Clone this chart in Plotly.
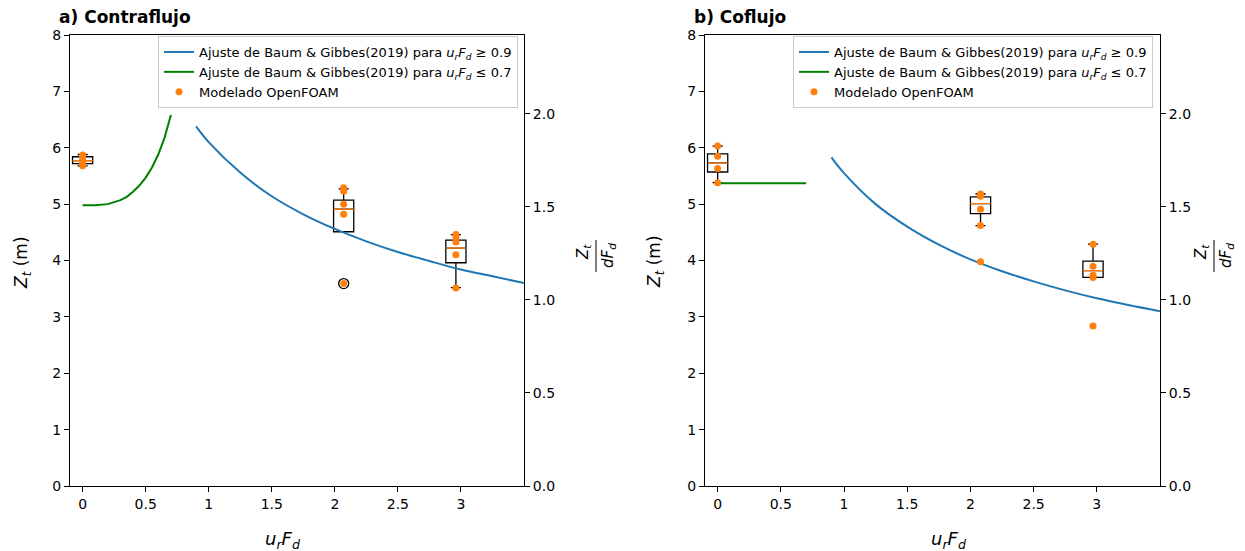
import plotly.graph_objects as go

W, H = 1245, 551

# ---------------- data ----------------
# Panel a) Contraflujo
a_blue_x = [0.9, 1.0, 1.25, 1.5, 1.75, 2.0, 2.25, 2.5, 2.75, 3.0, 3.25, 3.5]
a_blue_y = [6.38, 6.10, 5.56, 5.14, 4.82, 4.56, 4.34, 4.15, 3.99, 3.84, 3.72, 3.60]
a_green_x = [0.0, 0.1, 0.2, 0.3, 0.35, 0.4, 0.45, 0.5, 0.55, 0.6, 0.65, 0.7]
a_green_y = [4.98, 4.98, 5.00, 5.07, 5.13, 5.22, 5.33, 5.47, 5.65, 5.88, 6.18, 6.58]
a_box_pos = [0.0, 2.07, 2.96]
a_q1 = [5.72, 4.51, 3.96]
a_med = [5.77, 4.91, 4.22]
a_q3 = [5.84, 5.07, 4.36]
a_low = [5.68, 4.51, 3.52]
a_up = [5.88, 5.27, 4.46]
a_pts_x = [0.0, 0.0, 0.0, 0.0, 0.0, 2.07, 2.07, 2.07, 2.07, 2.07, 2.96, 2.96, 2.96, 2.96, 2.96]
a_pts_y = [5.68, 5.73, 5.78, 5.83, 5.87, 5.29, 5.23, 5.00, 4.82, 3.59, 4.46, 4.42, 4.33, 4.10, 3.51]
a_flier_x = [2.07]
a_flier_y = [3.59]

# Panel b) Coflujo
b_blue_x = [0.9, 1.0, 1.25, 1.5, 1.75, 2.0, 2.25, 2.5, 2.75, 3.0, 3.25, 3.5]
b_blue_y = [5.83, 5.55, 5.00, 4.60, 4.28, 4.02, 3.81, 3.63, 3.47, 3.33, 3.21, 3.10]
b_green_x = [0.0, 0.7]
b_green_y = [5.37, 5.37]
b_box_pos = [0.0, 2.08, 2.97]
b_q1 = [5.57, 4.83, 3.70]
b_med = [5.73, 5.01, 3.82]
b_q3 = [5.89, 5.13, 3.99]
b_low = [5.38, 4.62, 3.70]
b_up = [6.03, 5.18, 4.29]
b_pts_x = [0.0, 0.0, 0.0, 0.0, 2.08, 2.08, 2.08, 2.08, 2.08, 2.97, 2.97, 2.97, 2.97, 2.97]
b_pts_y = [6.03, 5.85, 5.63, 5.38, 5.18, 5.14, 4.91, 4.62, 3.98, 4.29, 3.90, 3.74, 3.70, 2.84]

box_width = 0.16
ratio_top = 8 / 3.3  # right axis (Z_t / dF_d) upper limit

x_ticks = [0, 0.5, 1, 1.5, 2, 2.5, 3]
y_ticks = [0, 1, 2, 3, 4, 5, 6, 7, 8]
r_ticks = [0.0, 0.5, 1.0, 1.5, 2.0]

BLUE = "#1f77b4"
GREEN = "#008000"
ORANGE = "#ff7f0e"
FONT = "DejaVu Sans"

lbl_hi = "Ajuste de Baum & Gibbes(2019) para <i>u<sub>r</sub>F<sub>d</sub></i> ≥ 0.9"
lbl_lo = "Ajuste de Baum & Gibbes(2019) para <i>u<sub>r</sub>F<sub>d</sub></i> ≤ 0.7"
lbl_pts = "Modelado OpenFOAM"

fig = go.Figure()


def add_panel(xa, ya, ra, leg, blue_x, blue_y, green_x, green_y, pos, q1, med, q3, low, up,
              px, py, flx=None, fly=None):
    fig.add_trace(go.Scatter(x=blue_x, y=blue_y, mode="lines", line=dict(color=BLUE, width=2, shape="spline"),
                             name=lbl_hi, xaxis=xa, yaxis=ya, legend=leg))
    fig.add_trace(go.Scatter(x=green_x, y=green_y, mode="lines", line=dict(color=GREEN, width=2),
                             name=lbl_lo, xaxis=xa, yaxis=ya, legend=leg))
    fig.add_trace(go.Box(x=pos, q1=q1, median=med, q3=q3, lowerfence=low, upperfence=up,
                         width=box_width, whiskerwidth=0.5, boxpoints=False,
                         fillcolor="rgba(0,0,0,0)", line=dict(color="black", width=1.3),
                         showlegend=False, xaxis=xa, yaxis=ya, hoverinfo="skip"))
    # orange median lines
    for p, m in zip(pos, med):
        fig.add_trace(go.Scatter(x=[p - box_width / 2, p + box_width / 2], y=[m, m], mode="lines",
                                 line=dict(color=ORANGE, width=1.3), showlegend=False,
                                 xaxis=xa, yaxis=ya, hoverinfo="skip"))
    if flx is not None:
        fig.add_trace(go.Scatter(x=flx, y=fly, mode="markers",
                                 marker=dict(symbol="circle-open", size=10, color="black",
                                             line=dict(width=1.3, color="black")),
                                 showlegend=False, xaxis=xa, yaxis=ya, hoverinfo="skip"))
    fig.add_trace(go.Scatter(x=px, y=py, mode="markers", marker=dict(color=ORANGE, size=7),
                             name=lbl_pts, xaxis=xa, yaxis=ya, legend=leg))
    fig.add_trace(go.Scatter(x=[None], y=[None], xaxis=xa, yaxis=ra, showlegend=False))


add_panel("x", "y", "y3", "legend", a_blue_x, a_blue_y, a_green_x, a_green_y,
          a_box_pos, a_q1, a_med, a_q3, a_low, a_up, a_pts_x, a_pts_y, a_flier_x, a_flier_y)
add_panel("x2", "y2", "y4", "legend2", b_blue_x, b_blue_y, b_green_x, b_green_y,
          b_box_pos, b_q1, b_med, b_q3, b_low, b_up, b_pts_x, b_pts_y)

def px_x(v):
    return v / W

def px_y(v):
    return 1 - v / H

ydom = [px_y(486), px_y(35)]
xdom1 = [px_x(70), px_x(524)]
xdom2 = [px_x(705), px_x(1160)]

axis_common = dict(showline=True, linecolor="black", linewidth=1, ticks="outside", ticklen=5,
                   tickcolor="black", showgrid=False, zeroline=False, automargin=False,
                   tickfont=dict(family=FONT, size=14, color="black"))

xcommon = dict(axis_common, range=[-0.1, 3.5], tickvals=x_ticks, mirror=True)
ycommon = dict(axis_common, range=[0, 8], tickvals=y_ticks)
rcommon = dict(axis_common, range=[0, ratio_top], tickvals=r_ticks, tickformat=".1f", side="right")

legend_common = dict(bgcolor="rgba(255,255,255,0.9)", bordercolor="#cccccc", borderwidth=1,
                     font=dict(family=FONT, size=13, color="black"), xanchor="left", yanchor="top",
                     tracegroupgap=0, itemwidth=30)

fig.update_layout(
    width=W, height=H, margin=dict(l=0, r=0, t=0, b=0, autoexpand=False),
    plot_bgcolor="white", paper_bgcolor="white", boxmode="overlay",
    xaxis=dict(xcommon, domain=xdom1, anchor="y"),
    yaxis=dict(ycommon, domain=ydom, anchor="x"),
    yaxis3=dict(rcommon, overlaying="y", anchor="x"),
    xaxis2=dict(xcommon, domain=xdom2, anchor="y2"),
    yaxis2=dict(ycommon, domain=ydom, anchor="x2"),
    yaxis4=dict(rcommon, overlaying="y2", anchor="x2"),
    legend=dict(legend_common, x=px_x(158), y=px_y(36)),
    legend2=dict(legend_common, x=px_x(793), y=px_y(36)),
    showlegend=True,
)

ann = []
def add_text(text, x, y, size, angle=0, bold=False, xanchor="center"):
    ann.append(dict(text=f"<b>{text}</b>" if bold else text, x=px_x(x), y=px_y(y), xref="paper", yref="paper",
                    showarrow=False, textangle=angle, xanchor=xanchor, yanchor="middle",
                    font=dict(family=FONT, size=size, color="black")))

add_text("a) Contraflujo", 57, 17, 17, bold=True, xanchor="left")
add_text("b) Coflujo", 692, 17, 17, bold=True, xanchor="left")
add_text("<i>Z<sub>t</sub></i> (m)", 22, 262, 17, angle=-90)
add_text("<i>Z<sub>t</sub></i> (m)", 655, 262, 17, angle=-90)
add_text("<i>u<sub>r</sub>F<sub>d</sub></i>", 283, 540, 18)
add_text("<i>u<sub>r</sub>F<sub>d</sub></i>", 949, 540, 18)
for xn, xb, xd in [(584, 596, 608), (1202, 1214, 1226)]:
    add_text("<i>Z<sub>t</sub></i>", xn, 252, 15, angle=-90)
    add_text("<i>dF<sub>d</sub></i>", xd, 256, 15, angle=-90)
    fig.add_shape(type="line", xref="paper", yref="paper", x0=px_x(xb), x1=px_x(xb),
                  y0=px_y(240), y1=px_y(272), line=dict(color="black", width=1))
fig.update_layout(annotations=ann)

fig.write_html("out.html")
